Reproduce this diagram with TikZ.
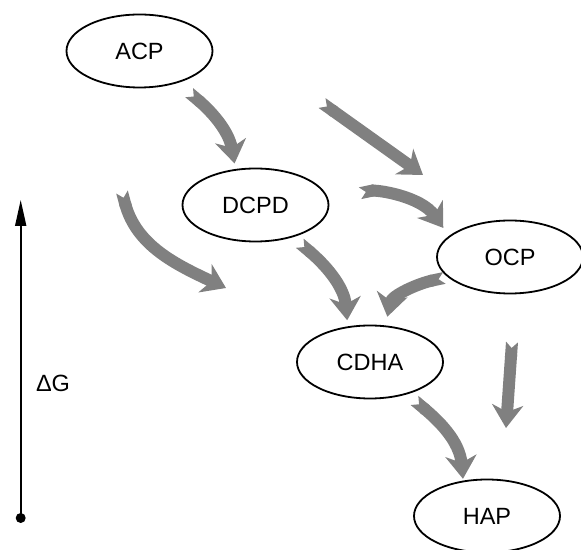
\documentclass[tikz,border=0pt]{standalone}
\usepackage{fontspec}
\setmainfont{Liberation Sans}
\usetikzlibrary{arrows.meta,shapes.geometric}
\definecolor{flowgray}{HTML}{808080}
\begin{document}
\begin{tikzpicture}[x=1pt,y=1pt,
  phase/.style={ellipse,draw=black,line width=1.8pt,minimum width=146pt,minimum height=73pt,inner sep=0pt,
    font=\fontsize{23.5}{27}\selectfont},
  flow/.style={draw=flowgray,line width=12pt,
    arrows={Triangle Cap[reversed]-Stealth[length=23pt,width=31pt,inset=7pt]}},
  axisline/.style={line width=1.8pt,-{Triangle[length=26pt,width=11pt]}}
]
\useasboundingbox (0,0) rectangle (581,549);
% phases
\node[phase] (ACP)  at (139.5,498) {ACP};
\node[phase] (DCPD) at (255.5,344) {DCPD};
\node[phase] (OCP)  at (510,292)   {OCP};
\node[phase] (CDHA) at (370,187)   {CDHA};
\node[phase] (HAP)  at (487,33)    {HAP};
% free arrow ends
\coordinate (f2s) at (122,357);
\coordinate (f2e) at (226,261);
\coordinate (f3s) at (322,446);
\coordinate (f3e) at (423,374);
\coordinate (f7s) at (512,207);
\coordinate (f7e) at (506,121);
% transformation arrows
\draw[flow,shorten <=15pt,shorten >=5.6pt] (ACP.-40.2) to[out=-40,in=100] (DCPD.119.4);
\draw[flow] (f2s) to[out=-75,in=155] (f2e);
\draw[flow] (f3s) -- (f3e);
\draw[flow,shorten <=32pt,shorten >=9.8pt] (DCPD.4.4) to[out=12,in=125] (OCP.161.3);
\draw[flow,shorten <=9.2pt,shorten >=6.1pt] (DCPD.-41.8) to[out=-40,in=95] (CDHA.122);
\draw[flow,shorten <=3.5pt,shorten >=8.9pt] (OCP.198.7) to[out=192,in=78] (CDHA.67.8);
\draw[flow] (f7s) -- (f7e);
\draw[flow,shorten <=9.5pt,shorten >=1.8pt] (CDHA.-41.5) to[out=-40,in=95] (HAP.124.8);
% energy axis
\node[circle,fill=black,inner sep=0pt,minimum size=10pt] (g0) at (20.7,31) {};
\coordinate (gtop) at (20.7,349);
\draw[axisline] (g0.center) -- (gtop);
\node[font=\fontsize{23.5}{27}\selectfont] (dG) at (53,166) {ΔG};
\end{tikzpicture}
\end{document}
